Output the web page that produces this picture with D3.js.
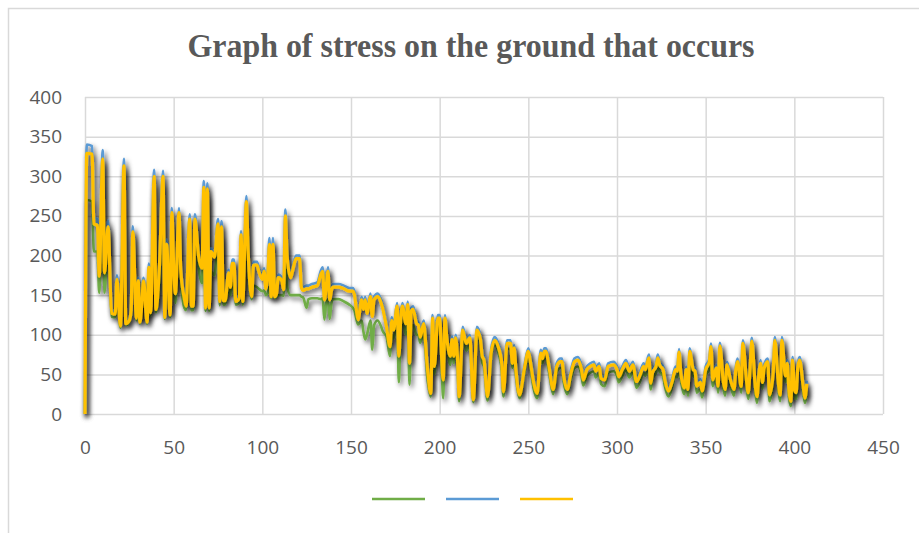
<!DOCTYPE html>
<html lang="en">
<head>
<meta charset="utf-8" />
<script src="https://d3js.org/d3.v7.min.js"></script>
<style>
  body { margin: 0; background: #fff; }
  text { font-family: "Open Sans", "Liberation Sans", sans-serif; }
</style>
</head>
<body>
<script>
// sample positions (x) shared by the three series
var xs = [0,1,4,5,7,8,10,11,13,15,17,18,20,22,23,25,26,27,29,30,31,32,33,35,36,37,39,40,42,44,45,46,48,49,50,
  51,53,54,56,57,59,60,61,62,64,66,67,68,69,70,71,73,75,76,77,78,79,81,82,83,84,85,87,88,89,90,91,92,94,95,97,98,100,
  101,102,103,104,105,106,107,108,109,111,112,113,114,116,117,119,121,122,123,125,126,128,131,133,134,135,136,137,138,139,140,143,146,149,
  151,152,153,154,156,157,158,159,161,162,163,165,167,168,170,172,173,174,176,177,178,179,181,182,183,184,185,187,188,189,191,193,195,196,197,199,200,
  201,202,203,204,206,207,208,209,210,211,213,215,217,219,221,223,224,225,227,229,231,233,235,236,238,240,241,242,243,245,248,250,
  251,253,255,257,258,259,260,261,262,264,266,268,269,270,272,274,276,278,280,281,283,285,287,288,290,291,293,295,298,300,
  301,303,305,307,309,311,313,315,316,318,319,320,322,323,324,326,327,329,331,333,334,335,336,338,339,340,341,343,344,345,347,348,350,
  352,353,354,356,357,358,360,361,362,364,366,367,368,370,371,373,374,375,376,378,379,380,381,382,383,385,386,388,389,391,392,393,395,396,397,398,399,400,
  401,402,403,405,406,407];

var greenVals = [0,270,268,205,205,153,318,153,230,123,122,160,109,308,112,116,126,225,118,160,114,132,160,114,170,124,290,128,165,290,120,195,122,240,170,
  140,240,170,134,131,235,131,131,238,185,165,275,130,275,130,180,175,225,137,225,138,138,160,150,165,163,138,140,205,138,185,255,180,145,162,160,158,155,
  156,150,152,160,146,160,146,148,150,150,149,215,160,150,150,150,150,148,147,134,145,146,146,145,146,119,140,144,120,140,145,145,142,138,
  134,130,120,113,118,104,94,100,118,81,112,118,110,104,98,73,100,95,118,40,104,118,100,120,37,112,112,100,100,90,104,47,22,110,50,112,112,
  66,20,110,90,62,86,64,88,64,16,98,80,88,15,100,86,65,60,17,70,88,78,55,22,82,82,58,76,48,20,54,72,
  62,32,20,70,64,72,72,62,48,25,53,58,58,40,25,44,58,60,48,36,48,52,54,46,52,38,35,52,54,48,
  40,48,56,46,54,33,41,52,48,63,31,44,52,63,54,48,35,22,33,48,46,70,44,25,48,23,71,48,46,27,32,21,48,
  57,77,35,50,27,78,32,23,54,35,23,48,58,27,81,35,19,48,84,27,14,42,56,32,50,58,16,42,85,31,16,85,40,56,21,10,60,23,
  19,52,60,27,14,30];

var blueVals = [0,340,338,248,246,179,333,183,244,131,130,175,115,322,118,121,134,237,125,172,120,142,172,120,190,132,308,136,193,307,126,220,129,260,190,
  156,260,186,150,140,252,140,140,252,204,188,294,138,291,138,209,202,246,146,243,147,147,182,164,195,195,146,150,231,146,212,275,209,152,192,192,184,175,
  184,162,176,222,152,222,152,156,176,172,161,258,203,176,184,200,200,164,160,162,162,164,166,181,185,148,164,185,148,160,164,164,162,159,
  159,154,136,123,148,136,148,131,152,127,148,152,144,136,114,89,122,110,140,77,122,140,118,142,68,134,136,118,116,101,118,64,30,125,64,125,125,
  81,47,125,101,77,98,77,100,77,26,110,93,100,22,110,98,77,72,26,81,97,89,68,32,93,93,68,87,60,28,64,83,
  72,44,30,81,74,83,83,73,59,35,64,70,70,51,35,55,70,72,60,47,60,64,66,58,64,49,47,64,66,60,
  51,60,68,58,66,45,53,64,60,75,43,56,64,75,66,60,47,33,44,60,58,82,56,37,60,35,83,60,58,39,44,33,60,
  69,89,47,62,39,90,44,35,66,47,35,60,70,39,93,47,31,60,96,39,26,54,68,44,62,70,28,54,97,43,28,97,52,68,33,20,72,35,
  31,64,72,39,24,42];

var yellowVals = [0,329,328,240,238,174,322,178,236,127,126,170,111,313,114,118,130,230,121,168,116,138,168,116,185,128,300,132,188,300,122,214,125,254,186,
  152,254,182,146,136,246,136,136,246,200,184,286,134,284,134,205,198,240,142,236,143,143,178,160,190,190,142,146,226,142,208,268,205,148,188,188,180,170,
  180,158,172,214,148,214,148,152,172,168,157,250,198,172,180,196,196,160,156,158,158,160,162,176,180,144,160,180,144,156,160,160,158,155,
  155,150,132,119,144,132,144,127,148,123,144,148,140,132,110,85,118,106,136,73,118,136,114,138,64,130,132,114,112,97,114,60,26,121,60,121,121,
  77,43,121,97,73,94,73,96,73,22,106,89,96,18,106,94,73,68,22,77,93,85,64,28,89,89,64,83,56,24,60,79,
  68,40,26,77,70,79,79,69,55,31,60,66,66,47,31,51,66,68,56,43,56,60,62,54,60,45,43,60,62,56,
  47,56,64,54,62,41,49,60,56,71,39,52,60,71,62,56,43,29,40,56,54,78,52,33,56,31,79,56,54,35,40,29,56,
  65,85,43,58,35,86,40,31,62,43,31,56,66,35,89,43,27,56,92,35,22,50,64,40,58,66,24,50,93,39,24,93,48,64,29,16,68,31,
  27,60,68,35,20,38];

var xTicks = [0,50,100,150,200,250,300,350,400,450];
var yTicks = [0,50,100,150,200,250,300,350,400];
var titleText = "Graph of stress on the ground that occurs";
var legendNames = ["", "", ""];

var W = 919, H = 533;
var plotLeft = 85, plotTop = 97, plotRight = 883, plotBottom = 414;

var svg = d3.select("body").append("svg")
  .attr("width", W)
  .attr("height", H);

// chart area border
svg.append("rect")
  .attr("x", 8.5).attr("y", 8.5)
  .attr("width", 1000).attr("height", 1000)
  .attr("fill", "#fff")
  .attr("stroke", "#d9d9d9")
  .attr("stroke-width", 1.5);

var defs = svg.append("defs");
var f = defs.append("filter").attr("id", "shadow")
  .attr("x", "-5%").attr("y", "-10%").attr("width", "115%").attr("height", "130%");
f.append("feDropShadow")
  .attr("dx", 2).attr("dy", 3)
  .attr("stdDeviation", 2.8)
  .attr("flood-color", "#000")
  .attr("flood-opacity", 0.65);

var x = d3.scaleLinear().domain([0, 450]).range([plotLeft, plotRight]);
var y = d3.scaleLinear().domain([0, 400]).range([plotBottom, plotTop]);

// grid
svg.append("g")
  .attr("transform", "translate(0," + plotBottom + ")")
  .call(d3.axisBottom(x).tickValues(xTicks).tickSize(-(plotBottom - plotTop)).tickFormat(""))
  .call(function(g) {
    g.select(".domain").remove();
    g.selectAll("line").attr("stroke", "#d9d9d9").attr("stroke-width", 1.5);
  });
svg.append("g")
  .attr("transform", "translate(" + plotLeft + ",0)")
  .call(d3.axisLeft(y).tickValues(yTicks).tickSize(-(plotRight - plotLeft)).tickFormat(""))
  .call(function(g) {
    g.select(".domain").remove();
    g.selectAll("line").attr("stroke", "#d9d9d9").attr("stroke-width", 1.5);
  });

// tick labels
svg.append("g")
  .attr("transform", "translate(0," + plotBottom + ")")
  .call(d3.axisBottom(x).tickValues(xTicks).tickSize(0).tickPadding(27))
  .call(function(g) {
    g.select(".domain").remove();
    g.selectAll("text").attr("fill", "#595959").style("font-size", "19px");
  });
svg.append("g")
  .attr("transform", "translate(" + plotLeft + ",0)")
  .call(d3.axisLeft(y).tickValues(yTicks).tickSize(0).tickPadding(23))
  .call(function(g) {
    g.select(".domain").remove();
    g.selectAll("text").attr("fill", "#595959").style("font-size", "19px");
  });

// series
var series = [
  {name: legendNames[0], vals: greenVals, color: "#70ad47", w: 2.6},
  {name: legendNames[1], vals: blueVals, color: "#5b9bd5", w: 2.6},
  {name: legendNames[2], vals: yellowVals, color: "#ffc000", w: 3.2}
];

var line = d3.line()
  .x(function(d) { return x(d[0]); })
  .y(function(d) { return y(d[1]); })
  .curve(d3.curveMonotoneX);

svg.selectAll("path.series")
  .data(series)
  .enter()
  .append("path")
  .attr("class", "series")
  .attr("d", function(s) {
    return line(xs.map(function(v, i) { return [v, s.vals[i]]; }));
  })
  .attr("fill", "none")
  .attr("stroke", function(s) { return s.color; })
  .attr("stroke-width", function(s) { return s.w; })
  .attr("stroke-linejoin", "round")
  .attr("filter", "url(#shadow)");

// title
svg.append("text")
  .attr("x", 471)
  .attr("y", 57)
  .attr("text-anchor", "middle")
  .attr("textLength", 567)
  .attr("lengthAdjust", "spacingAndGlyphs")
  .style("font-family", "'Liberation Serif', 'Times New Roman', serif")
  .style("font-weight", "bold")
  .style("font-size", "33px")
  .attr("fill", "#595959")
  .text(titleText);

// legend (series have no names)
var lg = svg.append("g");
lg.selectAll("line")
  .data(series)
  .enter()
  .append("line")
  .attr("x1", function(d, i) { return 372 + i * 74; })
  .attr("x2", function(d, i) { return 425 + i * 74; })
  .attr("y1", 499).attr("y2", 499)
  .attr("stroke", function(d) { return d.color; })
  .attr("stroke-width", 2.4);
</script>
</body>
</html>
